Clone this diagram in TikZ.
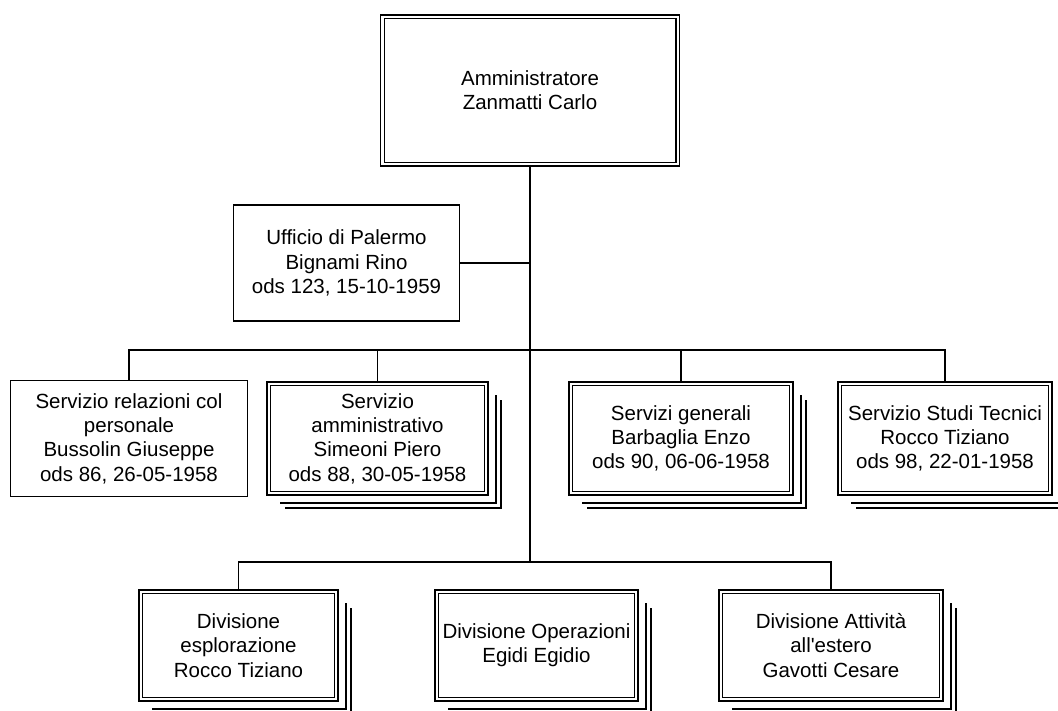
\documentclass[tikz,border=0pt]{standalone}
\usepackage{fontspec}
\setmainfont{Liberation Sans}
\usetikzlibrary{calc}
\tikzset{
  box/.style={draw, line width=1.3pt, align=center, inner sep=2pt,
    font=\fontsize{20.5}{24.3}\selectfont},
  dbox/.style={box, double, double distance=2.4pt},
  link/.style={line width=1.3pt},
}
% two offset outlines behind a box, marking a unit with several offices
\newcommand\unitstack[1]{%
  \draw[link] ([shift={(9pt,-12pt)}]#1.north east) |- ([shift={(12pt,-9pt)}]#1.south west);
  \draw[link] ([shift={(14pt,-17pt)}]#1.north east) |- ([shift={(17pt,-14pt)}]#1.south west);
}
\begin{document}
\begin{tikzpicture}[x=1pt,y=-1pt]
\clip (0,0) rectangle (1058,711);
\fill[white] (0,0) rectangle (1058,711);

\node[dbox, minimum width=295.4pt, minimum height=147.4pt] (adm) at (530,90.5)
  {Amministratore\\Zanmatti Carlo};
\node[box, minimum width=226pt, minimum height=116pt] (uff) at (346.5,263)
  {Ufficio di Palermo\\Bignami Rino\\ods 123, 15-10-1959};

\node[box, minimum width=237pt, minimum height=116pt] (s1) at (129,438.5)
  {Servizio relazioni col\\personale\\Bussolin Giuseppe\\ods 86, 26-05-1958};
\node[dbox, minimum width=217.4pt, minimum height=109.4pt] (s2) at (377.5,438.5)
  {Servizio\\amministrativo\\Simeoni Piero\\ods 88, 30-05-1958};
\node[dbox, minimum width=220.4pt, minimum height=109.4pt] (s3) at (681,438.5)
  {Servizi generali\\Barbaglia Enzo\\ods 90, 06-06-1958};
\node[dbox, minimum width=210.4pt, minimum height=109.4pt] (s4) at (945,438.5)
  {Servizio Studi Tecnici\\Rocco Tiziano\\ods 98, 22-01-1958};

\node[dbox, minimum width=195.4pt, minimum height=107.4pt] (d1) at (238.5,645.5)
  {Divisione\\esplorazione\\Rocco Tiziano};
\node[dbox, minimum width=199.4pt, minimum height=107.4pt] (d2) at (536.5,645.5)
  {Divisione Operazioni\\Egidi Egidio};
\node[dbox, minimum width=220.4pt, minimum height=107.4pt] (d3) at (831,645.5)
  {Divisione Attività\\all\textquotesingle estero\\Gavotti Cesare};

\unitstack{s2}
\unitstack{s3}
\unitstack{s4}
\unitstack{d1}
\unitstack{d2}
\unitstack{d3}

% connectors
\coordinate (busA) at (530,350);
\coordinate (busB) at (530,562);
\draw[link] (adm.south) -- (busB);
\draw[link] (uff.east) -- (uff.east -| adm.south);
\draw[link] (s1.north) |- (busA) -| (s4.north);
\draw[link] (s2.north) -- (s2.north |- busA);
\draw[link] (s3.north) -- (s3.north |- busA);
\draw[link] (d1.north) |- (busB) -| (d3.north);
\end{tikzpicture}
\end{document}
